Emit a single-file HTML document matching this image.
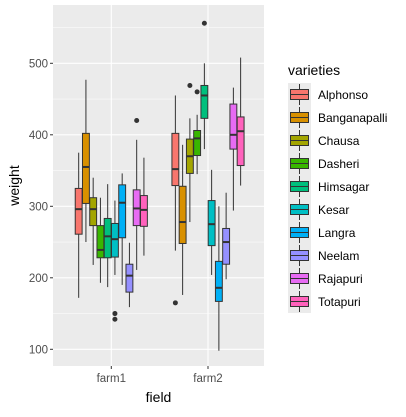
<!DOCTYPE html>
<html><head><meta charset="utf-8"><style>
body{margin:0;background:#fff;font-family:"Liberation Sans",Arial,sans-serif;}
svg text{font-family:"Liberation Sans",Arial,sans-serif;}
</style></head><body>
<svg id="chart" width="406" height="412" viewBox="0 0 406 412" xmlns="http://www.w3.org/2000/svg">
<rect x="0" y="0" width="406" height="412" fill="#fff"/>
<g id="plot"></g>
</svg>
<script>
const fields = ["farm1","farm2"];
const varieties = ["Alphonso","Banganapalli","Chausa","Dasheri","Himsagar","Kesar","Langra","Neelam","Rajapuri","Totapuri"];
const colors = ["#F8766D","#D89000","#A3A500","#39B600","#00BF7D","#00BFC4","#00B0F6","#9590FF","#E76BF3","#FF62BC"];
// [lowWhisker, q1, median, q3, highWhisker] per variety
const farm1Stats = [
 [172,261,296,325,375],[250,304,355,402,477],[218,273,296,312,340],[193,228,239,273,312],[187,228,258,283,331],
 [204,229,254,276,308],[190,256,305,330,346],[159,180,203,219,249],[211,273,297,323,393],[231,272,295,315,368]];
const farm2Stats = [
 [238,329,352,402,455],[176,248,278,328,386],[278,346,370,394,423],[345,371,395,406,428],[380,423,455,469,500],
 [204,245,275,308,351],[98,167,186,223,300],[198,219,250,269,319],[294,380,400,443,466],[329,357,405,425,508]];
const farm1Outliers = [[],[],[],[],[],[150,142],[],[],[420],[]];
const farm2Outliers = [[165],[],[469],[460],[556],[],[],[],[],[]];
const yTicks = [100,200,300,400,500];
const yMinor = [150,250,350,450,550];

const NS="http://www.w3.org/2000/svg";
const g=document.getElementById('plot');
function el(tag,attrs,parent){const e=document.createElementNS(NS,tag);for(const k in attrs)e.setAttribute(k,attrs[k]);(parent||g).appendChild(e);return e;}
const P={l:53,r:264,t:5,b:366};
function y(v){return 349.3-(v-100)*0.715;}
const xc=[111.3,208];
const dodge=72.5, bw=dodge/varieties.length;
function xBox(fi,vi){return xc[fi]-dodge/2+bw*(vi+0.5);}

const panel=el('rect',{x:P.l,y:P.t,width:P.r-P.l,height:P.b-P.t,fill:'#EBEBEB'});


yMinor.forEach(v=>{if(y(v)>P.t){const l=el('line',{x1:P.l,x2:P.r,y1:y(v),y2:y(v),stroke:'#fff','stroke-width':0.5});

}});
yTicks.forEach(v=>{const l=el('line',{x1:P.l,x2:P.r,y1:y(v),y2:y(v),stroke:'#fff','stroke-width':1.1});


const tk=el('line',{x1:P.l-3,x2:P.l,y1:y(v),y2:y(v),stroke:'#333','stroke-width':1});


const t=el('text',{x:P.l-5,y:y(v)+4,'text-anchor':'end','font-size':'11.5',fill:'#4D4D4D'});t.textContent=v;

});
fields.forEach((f,i)=>{const l=el('line',{x1:xc[i],x2:xc[i],y1:P.t,y2:P.b,stroke:'#fff','stroke-width':1.1});


const tk=el('line',{x1:xc[i],x2:xc[i],y1:P.b,y2:P.b+3,stroke:'#333','stroke-width':1});


const t=el('text',{x:xc[i],y:P.b+16,'text-anchor':'middle','font-size':'11.5',fill:'#4D4D4D'});t.textContent=f;

});

[farm1Stats,farm2Stats].forEach((stats,fi)=>{
 const outs=fi===0?farm1Outliers:farm2Outliers;
 stats.forEach((s,vi)=>{
  const cx=xBox(fi,vi), w=bw*0.95;
  const grp=el('g',{});
  
  
  el('line',{x1:cx,x2:cx,y1:y(s[0]),y2:y(s[1]),stroke:'#333','stroke-width':1},grp);
  el('line',{x1:cx,x2:cx,y1:y(s[3]),y2:y(s[4]),stroke:'#333','stroke-width':1},grp);
  el('rect',{x:cx-w/2,y:y(s[3]),width:w,height:y(s[1])-y(s[3]),fill:colors[vi],stroke:'#333','stroke-width':1},grp);
  el('line',{x1:cx-w/2,x2:cx+w/2,y1:y(s[2]),y2:y(s[2]),stroke:'#333','stroke-width':2},grp);
  outs[vi].forEach(o=>{const c=el('circle',{cx:cx,cy:y(o),r:2.5,fill:'#333'},grp);
   
   });
 });
});

const yt=el('text',{x:0,y:0,transform:'translate(19,'+((P.t+P.b)/2)+') rotate(-90)','text-anchor':'middle','font-size':'14',fill:'#000'});yt.textContent='weight';


const xt=el('text',{x:(P.l+P.r)/2,y:402,'text-anchor':'middle','font-size':'14',fill:'#000'});xt.textContent='field';



const lt=el('text',{x:288,y:75,'font-size':'14',fill:'#000'});lt.textContent='varieties';


varieties.forEach((v,i)=>{
 const ky=83+i*23;
 const lg=el('g',{});
 
 
 el('rect',{x:288,y:ky,width:23,height:23,fill:'#EBEBEB'},lg);
 el('line',{x1:299.5,x2:299.5,y1:ky+1,y2:ky+22,stroke:'#333','stroke-width':1},lg);
 el('rect',{x:290.5,y:ky+6.5,width:18,height:10,fill:colors[i],stroke:'#333','stroke-width':1},lg);
 el('line',{x1:290.5,x2:308.5,y1:ky+11.5,y2:ky+11.5,stroke:'#333','stroke-width':1},lg);
 const t=el('text',{x:318,y:ky+16,'font-size':'12',fill:'#000'},lg);t.textContent=v;
});
</script>
</body></html>
